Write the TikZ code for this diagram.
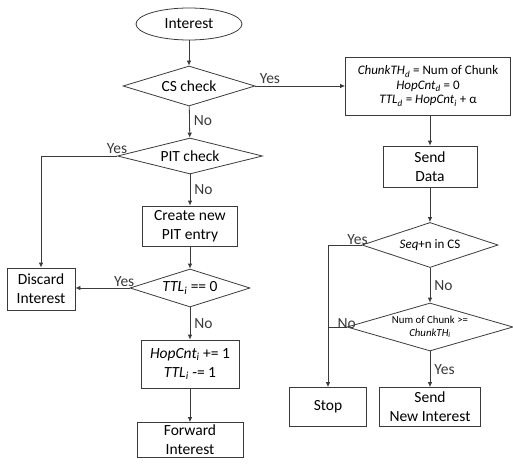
\documentclass[tikz,border=0pt]{standalone}
\usepackage{fontspec}
\setmainfont{Carlito}
\usetikzlibrary{arrows.meta,shapes.geometric,positioning}
\definecolor{flowline}{HTML}{3A3A3A}
\newcommand{\lowsub}[1]{\textsubscript{#1}}
\tikzset{
  flow/.style={flowline, -{Latex[length=5pt,width=4.5pt]}, line width=0.8pt},
  plain/.style={flowline, line width=0.8pt},
  procbox/.style={draw=flowline, line width=0.8pt, rectangle, align=center, inner sep=1pt, font=\fontsize{15.5}{19}\selectfont},
  decision/.style={draw=flowline, line width=0.8pt, diamond, aspect=3.3, inner sep=0pt, align=center, font=\fontsize{15.5}{19}\selectfont},
  startnode/.style={draw=flowline, line width=0.8pt, ellipse, inner sep=0pt, font=\fontsize{15.5}{19}\selectfont},
  lbl/.style={font=\fontsize{15.5}{19}\selectfont, inner sep=1pt}
}
\begin{document}
\begin{tikzpicture}[x=1pt, y=-1pt]
  \useasboundingbox (0,0) rectangle (513,468);
  % left column
  \node[startnode, minimum width=106pt, minimum height=32pt] (interest) at (189,24) {Interest};
  \node[decision, minimum width=132pt, minimum height=40pt] (cs) at (189,86) {CS check};
  \node[decision, minimum width=145pt, minimum height=36pt] (pit) at (190,156) {PIT check};
  \node[procbox, minimum width=95pt, minimum height=40pt] (create) at (190,226) {Create new\\PIT entry};
  \node[decision, minimum width=120pt, minimum height=38pt] (ttl) at (190,288) {\textit{TTL\lowsub{i}} == 0};
  \node[procbox, minimum width=98pt, minimum height=48pt] (hop) at (190,364) {\textit{HopCnt\lowsub{i}} += 1\\\textit{TTL\lowsub{i}} -= 1};
  \node[procbox, minimum width=106pt, minimum height=35pt] (fwd) at (190,440) {Forward\\Interest};
  \node[procbox, minimum width=68pt, minimum height=42pt] (discard) at (41,289) {Discard\\Interest};
  % right column
  \node[procbox, minimum width=165pt, minimum height=58pt, font=\fontsize{13}{14.5}\selectfont] (res) at (428,86)
    {\textit{ChunkTH\lowsub{d}} = Num of Chunk\\\textit{HopCnt\lowsub{d}} = 0\\\textit{TTL\lowsub{d}} = \textit{HopCnt\lowsub{i}} + α};
  \node[procbox, minimum width=94pt, minimum height=41pt] (data) at (430,166.5) {Send\\Data};
  \node[decision, minimum width=136pt, minimum height=45pt, font=\fontsize{13}{15}\selectfont] (seq) at (430,245) {\textit{Seq}+n in CS};
  \node[decision, minimum width=166pt, minimum height=48pt, font=\fontsize{10.8}{12.5}\selectfont] (num) at (430,327) {Num of Chunk >=\\\textit{ChunkTH\lowsub{i}}};
  \node[procbox, minimum width=77pt, minimum height=39pt] (stop) at (328,407) {Stop};
  \node[procbox, minimum width=101pt, minimum height=39pt] (sendnew) at (430,407) {Send\\New Interest};

  % connectors
  \draw[flow] (interest) -- (cs);
  \draw[flow] (cs) -- node[lbl, right=3pt, pos=0.45] {No} (pit);
  \draw[flow] (cs.east) -- node[lbl, pos=0.0, anchor=south west, xshift=3pt, yshift=1pt] {Yes} (res.west |- cs.east);
  \draw[flow] (pit.west) -- node[lbl, pos=0, anchor=south, yshift=1pt] {Yes} (discard.north |- pit.west) -- (discard.north);
  \draw[flow] (pit) -- node[lbl, right=3pt] {No} (create);
  \draw[flow] (create) -- (ttl);
  \draw[flow] (ttl.west) -- node[lbl, above, pos=0.1] {Yes} (discard.east |- ttl.west);
  \draw[flow] (ttl) -- node[lbl, right=3pt] {No} (hop);
  \draw[flow] (hop) -- (fwd);
  \draw[flow] (data.north |- res.south) -- (data.north);
  \draw[flow] (data) -- (seq);
  \draw[flow] (seq.west) -- node[lbl, pos=0, anchor=south, xshift=-4pt, yshift=-1pt] {Yes} (stop.north |- seq.west) -- (stop.north);
  \draw[flow] (seq) -- node[lbl, right=3pt] {No} (num);
  \draw[plain] (num.west) -- node[lbl, pos=0, anchor=south, yshift=-3pt] {No} (stop.north |- num.west);
  \draw[flow] (num) -- node[lbl, right=3pt] {Yes} (sendnew);
\end{tikzpicture}
\end{document}
